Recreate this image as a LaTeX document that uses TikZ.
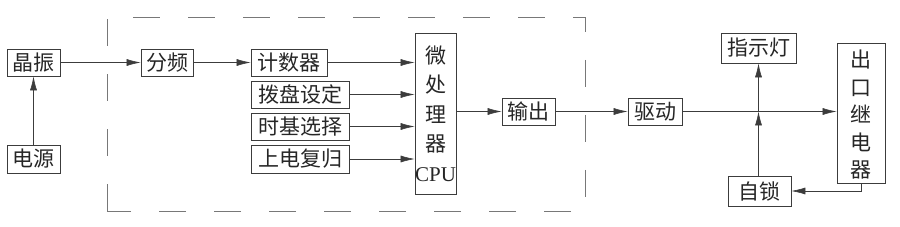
\documentclass[tikz,border=0pt]{standalone}
\usepackage{fontspec}
\setmainfont{Liberation Serif}
\newfontfamily\cjk{Noto Sans CJK SC}
\usepackage{tikz}
\usetikzlibrary{arrows.meta, positioning, calc}
\definecolor{LineGray}{RGB}{60,60,60}
\definecolor{DashGray}{RGB}{120,120,120}

\begin{document}
\begin{tikzpicture}[x=1pt, y=-1pt,
	blk/.style={draw=LineGray,thick,inner sep=0pt,minimum height=27pt,
		font=\cjk\fontsize{21}{29.5}\selectfont,text=black!85},
	tall/.style={blk,align=center},
	flow/.style={-{Latex[length=14pt,width=7pt]},LineGray,semithick},
	frame/.style={DashGray,semithick,dash pattern=on 27pt off 28pt}]
\useasboundingbox (0,0) rectangle (900,227);
% dashed frame
\draw[frame] (107,211) -- (107,17) -- (585,17) -- (585,211) -- cycle;
% source side
\node[blk,minimum width=53pt] (xtal) at (33.5,62.5) {晶振};
\node[blk,minimum width=53pt,minimum height=28pt] (power) at (33.5,159) {电源};
% inside the frame
\node[blk,minimum width=52pt] (div) at (167,62.5) {分频};
\node[blk,minimum width=76pt] (cnt) at (289,62.5) {计数器};
\node[blk,minimum width=98pt] (dial) at (300,94.5) {拨盘设定};
\node[blk,minimum width=98pt] (tbase) at (300,126.5) {时基选择};
\node[blk,minimum width=98pt,minimum height=28pt] (reset) at (300,159) {上电复归};
\node[tall,minimum width=41pt,minimum height=161pt] (cpu) at (435.5,113.5)
	{微\\处\\理\\器\\{\rmfamily CPU}};
\node[blk,minimum width=53pt] (out) at (528.5,111.5) {输出};
% output side
\node[blk,minimum width=54pt] (drv) at (655,111.5) {驱动};
\node[blk,minimum width=75pt,minimum height=30pt] (lamp) at (758.5,48) {指示灯};
\node[tall,minimum width=48pt,minimum height=140pt,
	font=\cjk\fontsize{21}{27.5}\selectfont] (relay) at (861,113)
	{\\[-6pt]出\\口\\继\\电\\器};
\node[blk,minimum width=63pt,minimum height=30pt] (latch) at (759.5,191) {自锁};
\coordinate (j) at (drv.east -| lamp.south);
% connections
\draw[flow] (power) -- (xtal);
\draw[flow] (xtal) -- (div);
\draw[flow] (div) -- (cnt);
\foreach \b in {cnt,dial,tbase,reset}
	\draw[flow] (\b.east) -- (\b.east -| cpu.west);
\draw[flow] (out.west -| cpu.east) -- (out.west);
\draw[flow] (out) -- (drv);
\draw[flow] (drv.east) -- (drv.east -| relay.west);
\draw[flow] (j) -- (lamp.south);
\draw[flow] (j |- latch.north) -- (j);
\draw[flow] (relay.south) |- (latch.east);
\end{tikzpicture}
\end{document}
